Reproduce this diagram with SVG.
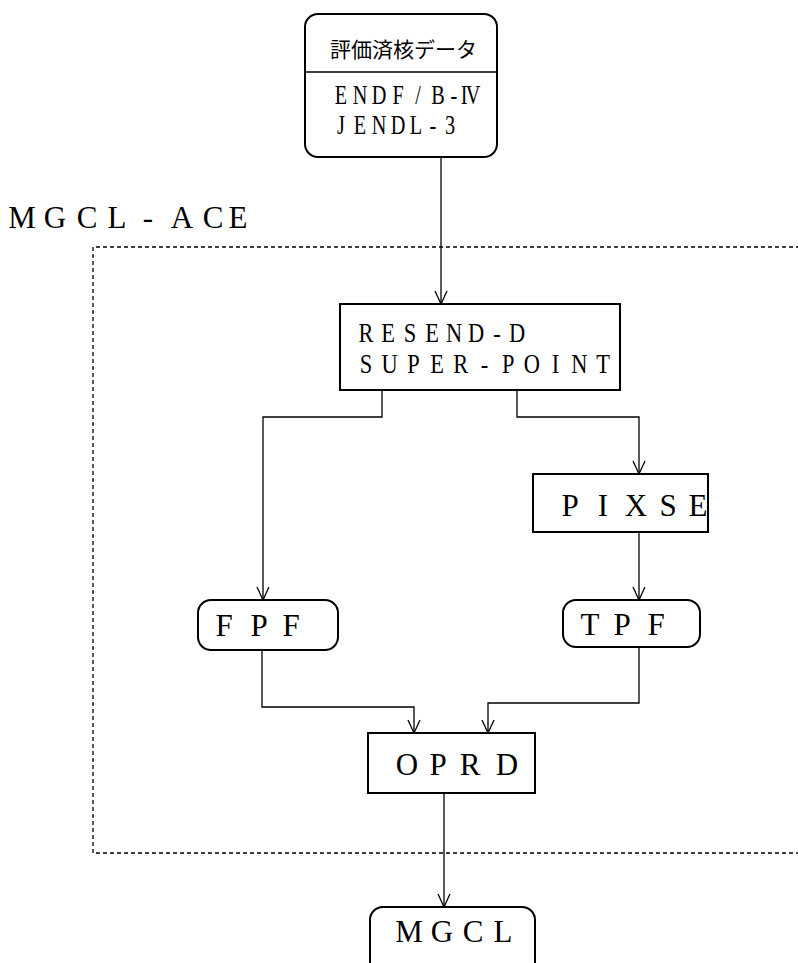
<svg xmlns="http://www.w3.org/2000/svg" width="798" height="963" viewBox="0 0 798 963">
<style>
.box{fill:#fff;stroke:#000;stroke-width:2}
.t{font-family:"Liberation Serif",serif;font-size:31px;fill:#000;text-anchor:middle}
.n{font-family:"Liberation Serif",serif;font-size:27px;fill:#000;text-anchor:middle}
.r{font-family:"Liberation Serif",serif;font-size:28px;fill:#000;text-anchor:middle}
.j{font-family:"Noto Sans CJK JP",serif;font-size:21px;fill:#000}
.c{fill:none;stroke:#000;stroke-width:1.3}
.ah{fill:none;stroke:#000;stroke-width:1.3}
.dot{fill:none;stroke:#000;stroke-width:1.3;stroke-dasharray:4 3}
</style>
<rect width="798" height="963" fill="#fff"/>
<text class="t" x="22 55 87 117 148 182 213 238" y="228">MGCL-ACE</text>
<path class="dot" d="M800,247 H93 V853 H800"/>
<g id="connectors">
<path class="c" d="M441,157 V304"/>
<path class="ah" d="M435,291 L441,304 L447,291"/>
<path class="c" d="M382,390 V417 H263 V600"/>
<path class="ah" d="M257,587 L263,600 L269,587"/>
<path class="c" d="M517,390 V417 H639 V474"/>
<path class="ah" d="M633,461 L639,474 L645,461"/>
<path class="c" d="M639,532 V600"/>
<path class="ah" d="M633,587 L639,600 L645,587"/>
<path class="c" d="M262,650 V707 H414 V733"/>
<path class="ah" d="M408,720 L414,733 L420,720"/>
<path class="c" d="M639,647 V703 H488 V733"/>
<path class="ah" d="M482,720 L488,733 L494,720"/>
<path class="c" d="M444,793 V907"/>
<path class="ah" d="M438,894 L444,907 L450,894"/>
</g>
<g id="n-source">
<rect class="box" x="305" y="14" width="192" height="143" rx="13"/>
<line x1="305" y1="72" x2="497" y2="72" stroke="#000" stroke-width="1.5"/>
<text class="j" x="330" y="57">評価済核データ</text>
<text class="n" transform="scale(0.75,1)"><tspan x="454.7 480 505.3 530.7 557.3 584 605.3 618.7 630.7" y="104">ENDF/B-IV</tspan><tspan x="454.7 480 505.3 530.7 554.7 577.3 600" y="134">JENDL-3</tspan></text>
</g>
<g id="n-resend">
<rect class="box" x="340" y="304" width="280" height="86"/>
<text class="r" transform="scale(0.8,1)"><tspan x="457.5 485 512.5 540 567.5 595 621.25 646.25" y="342">RESEND-D</tspan><tspan x="457.5 487.1 516.75 546.4 576 605.6 635.25 664.9 694.5 724.1 753.75" y="373">SUPER-POINT</tspan></text>
</g>
<g id="n-pixse">
<rect class="box" x="533" y="474" width="175" height="58"/>
<text class="t" x="570 603 636 668 698" y="516">PIXSE</text>
</g>
<g id="n-fpf">
<rect class="box" x="198" y="600" width="140" height="50" rx="13"/>
<text class="t" x="224 259 291" y="636">FPF</text>
</g>
<g id="n-tpf">
<rect class="box" x="563" y="600" width="137" height="47" rx="13"/>
<text class="t" x="590 622 656" y="635">TPF</text>
</g>
<g id="n-oprd">
<rect class="box" x="368" y="733" width="167" height="60"/>
<text class="t" x="407 438 470 507" y="775">OPRD</text>
</g>
<g id="n-mgcl">
<rect class="box" x="370" y="907" width="165" height="70" rx="13"/>
<text class="t" x="409 442 473 503" y="942">MGCL</text>
</g>
</svg>
